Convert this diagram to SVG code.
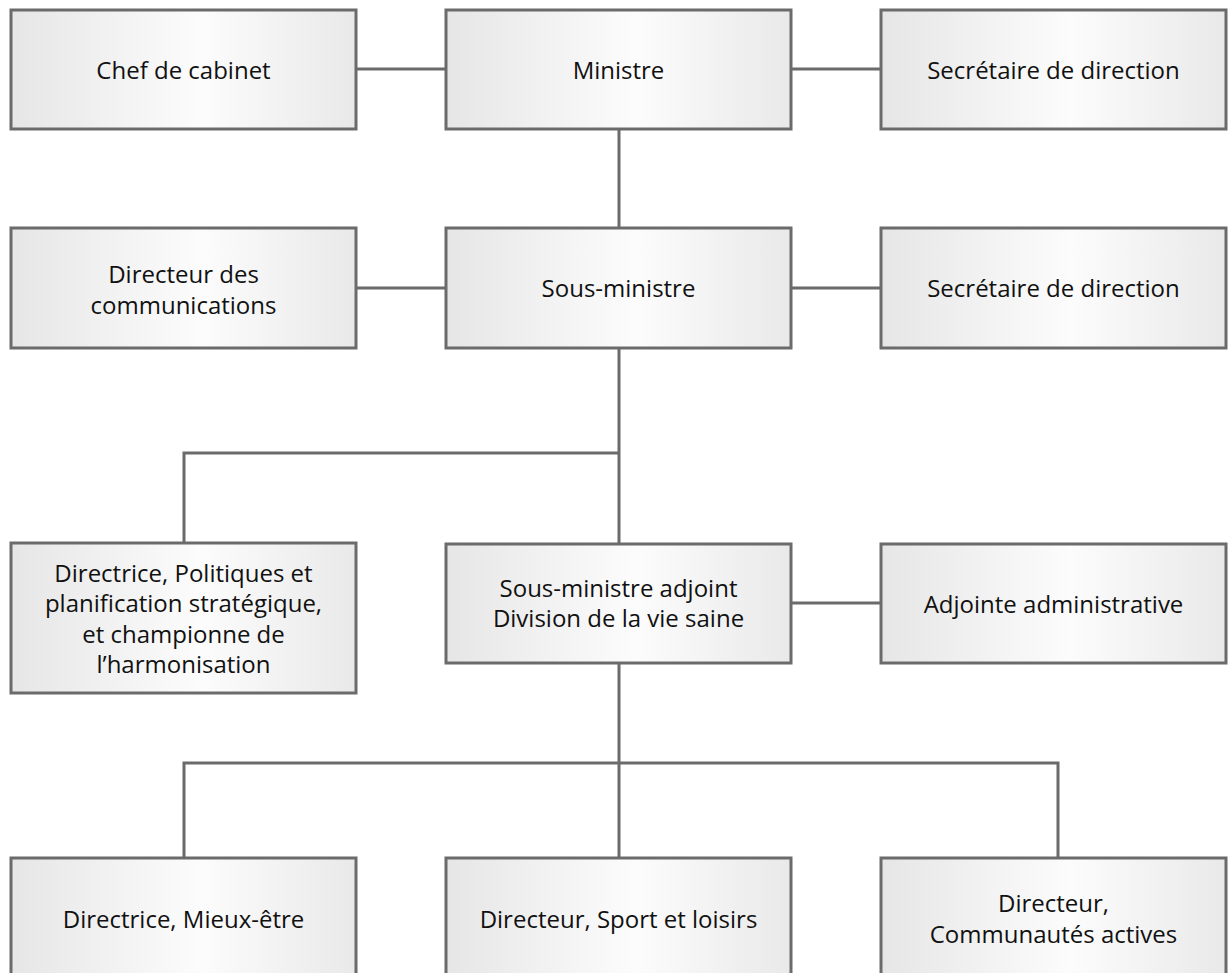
<svg xmlns="http://www.w3.org/2000/svg" width="1228" height="973" viewBox="0 0 1228 973">
<style>
.box{fill:url(#g);stroke:#6b6b6b;stroke-width:3}
.lbl{font-family:"Open Sans","Noto Sans",sans-serif;font-size:24px;fill:#111;text-anchor:middle}
.con{fill:none;stroke:#6b6b6b;stroke-width:3}
</style>
<defs>
<linearGradient id="g" x1="0" y1="0" x2="1" y2="0">
<stop offset="0" stop-color="#e6e6e6"/>
<stop offset="0.55" stop-color="#fcfcfc"/>
<stop offset="1" stop-color="#e9e9e9"/>
</linearGradient>
</defs>
<rect width="1228" height="973" fill="#fff"/>
<g id="connectors">
<path class="con" d="M356 69H446M791 69H881M619 129V228M356 288H446M791 288H881M619 348V544M619 453H184V543M791 603H881M619 663V763M184 857V763H1058V857M619 763V857"/>
</g>
<g id="n1"><rect class="box" x="11" y="10" width="345" height="119"/><text class="lbl" x="183.5" y="79">Chef de cabinet</text></g>
<g id="n2"><rect class="box" x="446" y="10" width="345" height="119"/><text class="lbl" x="618.5" y="79">Ministre</text></g>
<g id="n3"><rect class="box" x="881" y="10" width="345" height="119"/><text class="lbl" x="1053.5" y="79">Secrétaire de direction</text></g>
<g id="n4"><rect class="box" x="11" y="228" width="345" height="120"/><text class="lbl" x="183.5" y="283">Directeur des</text><text class="lbl" x="183.5" y="314">communications</text></g>
<g id="n5"><rect class="box" x="446" y="228" width="345" height="120"/><text class="lbl" x="618.5" y="297">Sous-ministre</text></g>
<g id="n6"><rect class="box" x="881" y="228" width="345" height="120"/><text class="lbl" x="1053.5" y="297">Secrétaire de direction</text></g>
<g id="n7"><rect class="box" x="11" y="543" width="345" height="150"/><text class="lbl" x="183.5" y="582">Directrice, Politiques et</text><text class="lbl" x="183.5" y="612">planification stratégique,</text><text class="lbl" x="183.5" y="643">et championne de</text><text class="lbl" x="183.5" y="673">l’harmonisation</text></g>
<g id="n8"><rect class="box" x="446" y="544" width="345" height="119"/><text class="lbl" x="618.5" y="597">Sous-ministre adjoint</text><text class="lbl" x="618.5" y="627">Division de la vie saine</text></g>
<g id="n9"><rect class="box" x="881" y="544" width="345" height="119"/><text class="lbl" x="1053.5" y="613">Adjointe administrative</text></g>
<g id="n10"><rect class="box" x="11" y="858" width="345" height="130"/><text class="lbl" x="183.5" y="928">Directrice, Mieux-être</text></g>
<g id="n11"><rect class="box" x="446" y="858" width="345" height="130"/><text class="lbl" x="618.5" y="928">Directeur, Sport et loisirs</text></g>
<g id="n12"><rect class="box" x="881" y="858" width="345" height="130"/><text class="lbl" x="1053.5" y="912">Directeur,</text><text class="lbl" x="1053.5" y="943">Communautés actives</text></g>
</svg>
